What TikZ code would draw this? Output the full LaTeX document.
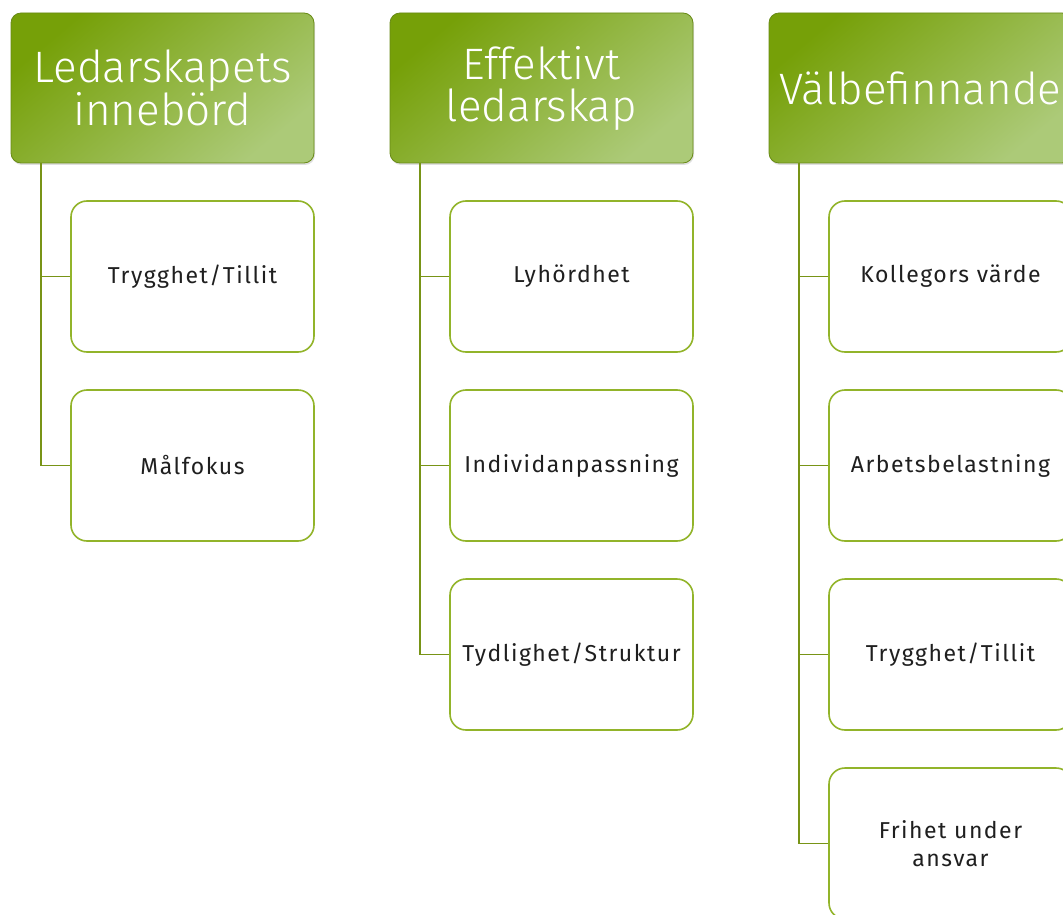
\documentclass[tikz,border=0pt]{standalone}
\usepackage{fontspec}
\setmainfont{Fira Sans}
\newfontfamily\headfont{Fira Sans Light}
\newfontfamily\childfont[LetterSpace=6.5]{Fira Sans}
\usetikzlibrary{shadows}
\definecolor{hdark}{RGB}{118,160,8}
\definecolor{hlight}{RGB}{172,202,120}
\definecolor{hborder}{RGB}{104,138,22}
\definecolor{cborder}{RGB}{146,180,42}
\definecolor{connc}{RGB}{120,148,22}
\begin{document}
\begin{tikzpicture}[x=1pt,y=-1pt,
  header/.style={rounded corners=10pt, minimum width=303pt, minimum height=150pt,
    draw=hborder, line width=0.8pt, top color=hdark, bottom color=hlight, shading angle=40,
    text=white, font=\headfont\fontsize{44}{42}\selectfont, align=center, inner sep=0pt,
    drop shadow={shadow xshift=1pt, shadow yshift=-2pt, opacity=0.25}},
  childbox/.style={rounded corners=16pt, minimum width=243pt, minimum height=151pt,
    draw=cborder, line width=1.6pt, fill=white, font=\childfont\fontsize{23}{28}\selectfont,
    align=center, text=black!88, inner sep=0pt},
  conn/.style={draw=connc, line width=1.8pt}]
\clip (0,0) rectangle (1063,915);
\fill[white] (0,0) rectangle (1063,915);

\node[header] (h1) at (162.5,88) {Ledarskapets\\innebörd};
\node[header] (h2) at (541.5,88) {Effektivt\\ledarskap};
\node[header] (h3) at (920.5,88) {Välbefinnande};

\node[childbox] (c11) at (192.5,276.5) {Trygghet/Tillit};
\node[childbox] (c12) at (192.5,465.5) {Målfokus};

\node[childbox] (c21) at (571.5,276.5) {Lyhördhet};
\node[childbox] (c22) at (571.5,465.5) {Individanpassning};
\node[childbox] (c23) at (571.5,654.5) {Tydlighet/Struktur};

\node[childbox] (c31) at (950.5,276.5) {Kollegors värde};
\node[childbox] (c32) at (950.5,465.5) {Arbetsbelastning};
\node[childbox] (c33) at (950.5,654.5) {Trygghet/Tillit};
\node[childbox] (c34) at (950.5,843.5) {Frihet under\\ansvar};

\foreach \c in {c11,c12} \draw[conn] ([xshift=30pt]h1.south west) |- (\c.west);
\foreach \c in {c21,c22,c23} \draw[conn] ([xshift=30pt]h2.south west) |- (\c.west);
\foreach \c in {c31,c32,c33,c34} \draw[conn] ([xshift=30pt]h3.south west) |- (\c.west);
\end{tikzpicture}
\end{document}
